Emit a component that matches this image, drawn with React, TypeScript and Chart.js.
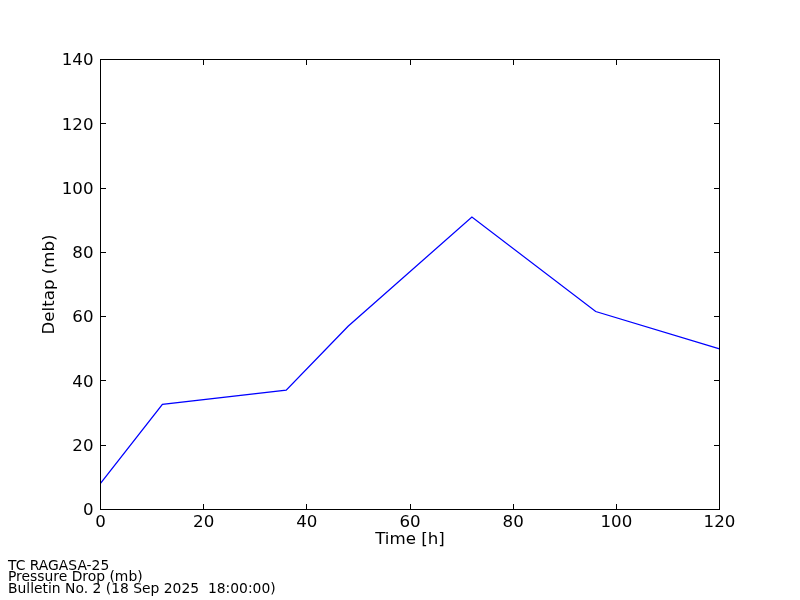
import React, { useEffect, useRef } from "react";
import { Chart, registerables } from "chart.js";

Chart.register(...registerables);

const hours = [0, 12, 36, 48, 72, 96, 120];
const deltap = [8.1, 32.7, 37.1, 57, 91, 61.6, 50];
const xTicks = [0, 20, 40, 60, 80, 100, 120];
const yTicks = [0, 20, 40, 60, 80, 100, 120, 140];
const footerLines = ["TC RAGASA-25", "Pressure Drop (mb)", "Bulletin No. 2 (18 Sep 2025  18:00:00)"];

const FONT = "'DejaVu Sans', sans-serif";

const frameTicks = {
  id: "frameTicks",
  afterDraw(chart: any) {
    const { ctx, chartArea } = chart;
    const { left, right, top, bottom } = chartArea;
    const xs = chart.scales.x;
    const ys = chart.scales.y;
    const len = 5.5;
    ctx.save();
    ctx.strokeStyle = "#000";
    ctx.lineWidth = 1;
    ctx.beginPath();
    for (const v of xTicks) {
      const px = Math.floor(xs.getPixelForValue(v)) + 0.5;
      ctx.moveTo(px, bottom);
      ctx.lineTo(px, bottom - len);
      ctx.moveTo(px, top);
      ctx.lineTo(px, top + len);
    }
    for (const v of yTicks) {
      const py = Math.floor(ys.getPixelForValue(v)) + 0.5;
      ctx.moveTo(left, py);
      ctx.lineTo(left + len, py);
      ctx.moveTo(right, py);
      ctx.lineTo(right - len, py);
    }
    ctx.stroke();
    ctx.lineWidth = 1;
    ctx.strokeRect(left, top, right - left, bottom - top);
    ctx.restore();
  },
};

export default function App() {
  const ref = useRef<HTMLCanvasElement>(null);
  useEffect(() => {
    if (!ref.current) return;
    const chart = new Chart(ref.current, {
      type: "line",
      data: {
        datasets: [
          {
            data: hours.map((h, i) => ({ x: h, y: deltap[i] })),
            borderColor: "#0000ff",
            borderWidth: 1.3,
            pointRadius: 0,
            tension: 0,
            fill: false,
          },
        ],
      },
      options: {
        animation: false,
        responsive: false,
        devicePixelRatio: 1,
        layout: { padding: { left: 0, top: 59.5, right: 80.5, bottom: 0 } },
        plugins: { legend: { display: false }, tooltip: { enabled: false } },
        scales: {
          x: {
            type: "linear",
            min: 0,
            max: 120,
            afterBuildTicks: (s: any) => {
              s.ticks = xTicks.map((v) => ({ value: v }));
            },
            afterFit: (s: any) => {
              s.height = 90.5;
            },
            grid: { display: false, drawTicks: false },
            border: { display: false },
            ticks: {
              color: "#000",
              padding: 3,
              maxRotation: 0,
              autoSkip: false,
              font: { family: FONT, size: 16.67 },
            },
            title: {
              display: true,
              text: "Time [h]",
              color: "#000",
              font: { family: FONT, size: 16.67 },
              padding: { top: 0, bottom: 50 },
            },
          },
          y: {
            type: "linear",
            min: 0,
            max: 140,
            afterBuildTicks: (s: any) => {
              s.ticks = yTicks.map((v) => ({ value: v }));
            },
            afterFit: (s: any) => {
              s.width = 100.5;
            },
            grid: { display: false, drawTicks: false },
            border: { display: false },
            ticks: {
              color: "#000",
              padding: 7,
              labelOffset: 1.5,
              autoSkip: false,
              font: { family: FONT, size: 16.67 },
            },
            title: {
              display: true,
              text: "Deltap (mb)",
              color: "#000",
              font: { family: FONT, size: 16.67 },
              padding: { top: 40, bottom: 0 },
            },
          },
        },
      },
      plugins: [frameTicks],
    });
    return () => chart.destroy();
  }, []);

  return (
    <div style={{ position: "absolute", left: 0, top: 0, width: 800, height: 600, background: "#fff" }}>
      <canvas ref={ref} width={800} height={600} style={{ display: "block" }} />
      {footerLines.map((t, i) => (
        <div
          key={i}
          style={{
            position: "absolute",
            left: 8,
            top: 558.5 + i * 11.7,
            fontFamily: FONT,
            fontSize: 13.89,
            lineHeight: "12px",
            whiteSpace: "pre",
            color: "#000",
          }}
        >
          {t}
        </div>
      ))}
    </div>
  );
}
